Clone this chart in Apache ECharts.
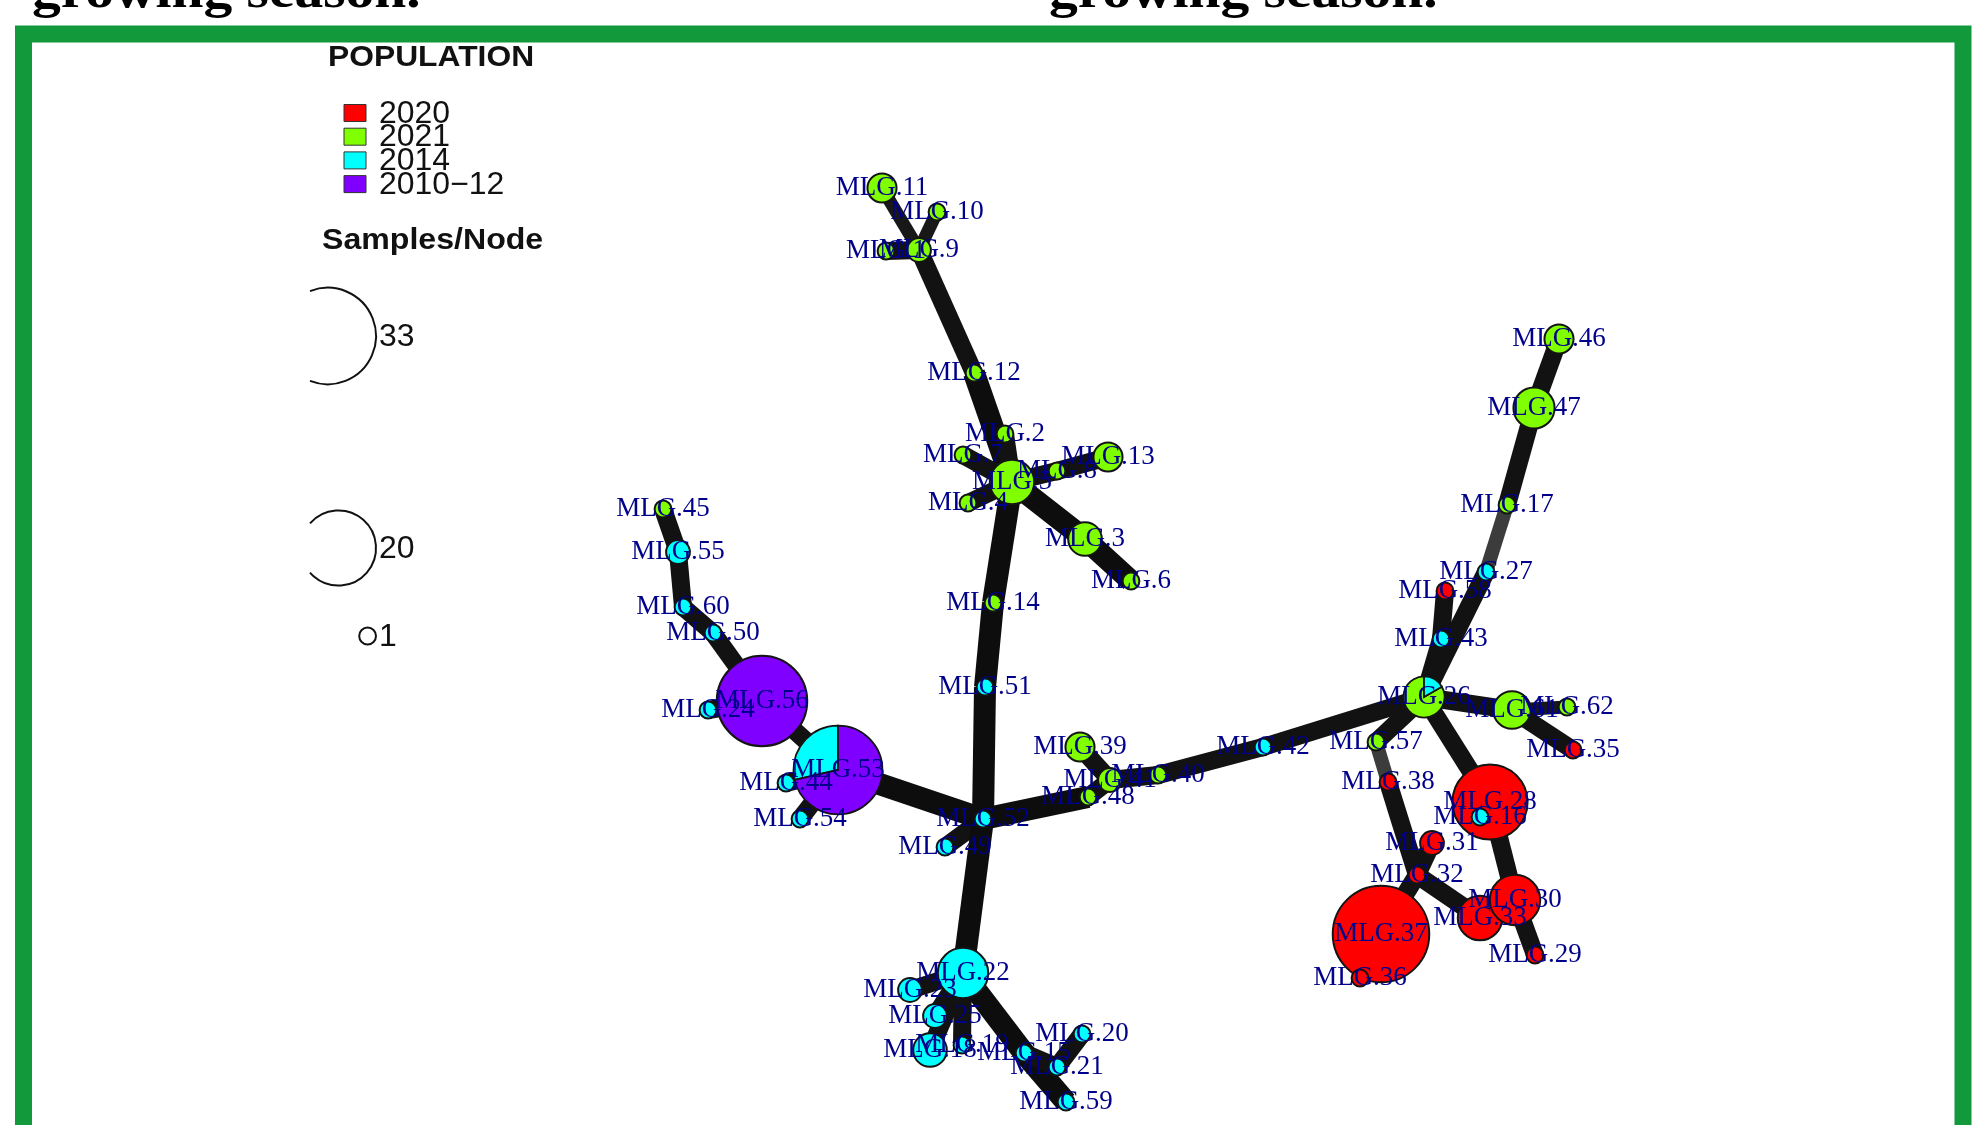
<!DOCTYPE html>
<html>
<head>
<meta charset="utf-8">
<script src="https://cdn.jsdelivr.net/npm/echarts@6/dist/echarts.min.js"></script>
<style>
html, body { margin: 0; padding: 0; background: #fff; }
#chart { width: 1981px; height: 1125px; }
</style>
</head>
<body>
<div id="chart"></div>
<script>
// populations in legend order, rainbow(4)
const populations = ['2020', '2021', '2014', '2010\u221212'];
const popColors = ['#FF0000', '#80FF00', '#00FFFF', '#8000FF'];
const sizeLegend = [33, 20, 1];

// MLG nodes (draw order) and their msn layout coordinates
const mlg = ['MLG.11','MLG.10','MLG.1','MLG.9','MLG.12','MLG.2','MLG.7','MLG.4','MLG.5','MLG.8',
  'MLG.13','MLG.3','MLG.6','MLG.14','MLG.51','MLG.52','MLG.49','MLG.45','MLG.55','MLG.60',
  'MLG.50','MLG.56','MLG.24','MLG.53','MLG.44','MLG.54','MLG.48','MLG.41','MLG.39','MLG.40',
  'MLG.42','MLG.26','MLG.61','MLG.62','MLG.35','MLG.57','MLG.43','MLG.58','MLG.27','MLG.17',
  'MLG.47','MLG.46','MLG.38','MLG.28','MLG.16','MLG.31','MLG.32','MLG.37','MLG.36','MLG.33',
  'MLG.30','MLG.29','MLG.22','MLG.23','MLG.25','MLG.18','MLG.19','MLG.15','MLG.20','MLG.21','MLG.59'];
const layoutX = [88.2, 93.7, 88.6, 91.9, 97.4, 100.5, 96.3, 96.8, 101.2, 105.7,
  110.8, 108.5, 113.1, 99.3, 98.5, 98.3, 94.5, 66.3, 67.8, 68.3,
  71.3, 76.2, 70.8, 83.8, 78.6, 80.0, 108.8, 111.0, 108.0, 115.8,
  126.3, 142.4, 151.2, 156.7, 157.3, 137.6, 144.1, 144.5, 148.6, 150.7,
  153.4, 155.9, 138.8, 149.0, 148.0, 143.2, 141.7, 138.1, 136.0, 148.0,
  151.5, 153.5, 96.3, 91.0, 93.5, 93.0, 96.2, 102.4, 108.2, 105.7, 106.6];
const layoutY = [18.8, 21.2, 25.1, 25.0, 37.3, 43.4, 45.5, 50.3, 48.2, 47.1,
  45.7, 53.9, 58.1, 60.3, 68.7, 81.9, 84.7, 50.9, 55.2, 60.7,
  63.3, 70.1, 71.0, 77.0, 78.3, 81.9, 79.7, 78.0, 74.7, 77.5,
  74.7, 69.7, 71.0, 70.7, 75.0, 74.2, 63.9, 59.1, 57.2, 50.5,
  40.8, 33.9, 78.2, 80.2, 81.7, 84.3, 87.5, 93.4, 97.8, 91.8,
  90.0, 95.5, 97.3, 99.0, 101.6, 105.0, 104.5, 105.3, 103.4, 106.7, 110.2];
// samples per node, split by population [2020, 2021, 2014, 2010-12]
const samples = [
  [0,3,0,0],[0,1,0,0],[0,1,0,0],[0,2,0,0],[0,1,0,0],[0,1,0,0],[0,1,0,0],[0,1,0,0],[0,7,0,0],[0,1,0,0],
  [0,3,0,0],[0,4,0,0],[0,1,0,0],[0,1,0,0],[0,0,1,0],[0,0,1,0],[0,0,1,0],[0,1,0,0],[0,0,2,0],[0,0,1,0],
  [0,0,1,0],[0,0,0,29],[0,0,1,0],[0,0,8,20],[0,0,1,0],[0,0,1,0],[0,1,0,0],[0,2,0,0],[0,3,0,0],[0,1,0,0],
  [0,0,1,0],[0,5,1,0],[0,5,0,0],[0,1,0,0],[1,0,0,0],[0,1,0,0],[0,0,1,0],[1,0,0,0],[0,0,1,0],[0,1,0,0],
  [0,6,0,0],[0,3,0,0],[1,0,0,0],[20,0,0,0],[0,0,1,0],[2,0,0,0],[1,0,0,0],[33,0,0,0],[1,0,0,0],[7,0,0,0],
  [9,0,0,0],[1,0,0,0],[0,0,9,0],[0,0,2,0],[0,0,2,0],[0,0,4,0],[0,0,1,0],[0,0,1,0],[0,0,1,0],[0,0,1,0],[0,0,1,0]];

// minimum spanning network links: [from, to, distance class]
const links = [
  ['MLG.11','MLG.9',3],['MLG.10','MLG.9',3],['MLG.1','MLG.9',2],['MLG.9','MLG.12',2],['MLG.12','MLG.5',1],
  ['MLG.5','MLG.2',2],['MLG.5','MLG.7',2],['MLG.5','MLG.4',2],['MLG.5','MLG.8',2],['MLG.8','MLG.13',2],
  ['MLG.5','MLG.3',1],['MLG.3','MLG.6',1],['MLG.5','MLG.14',1],['MLG.14','MLG.51',1],['MLG.51','MLG.52',1],
  ['MLG.52','MLG.49',2],['MLG.52','MLG.53',1],['MLG.53','MLG.44',2],['MLG.53','MLG.54',2],['MLG.53','MLG.56',2],
  ['MLG.56','MLG.24',2],['MLG.56','MLG.50',2],['MLG.50','MLG.60',2],['MLG.60','MLG.55',2],['MLG.55','MLG.45',2],
  ['MLG.52','MLG.22',1],['MLG.22','MLG.23',2],['MLG.22','MLG.25',2],['MLG.22','MLG.19',2],['MLG.22','MLG.18',2],
  ['MLG.22','MLG.15',1],['MLG.15','MLG.59',1],['MLG.15','MLG.21',2],['MLG.21','MLG.20',2],
  ['MLG.52','MLG.48',1],['MLG.48','MLG.41',2],['MLG.41','MLG.39',2],['MLG.41','MLG.40',2],['MLG.40','MLG.42',2],
  ['MLG.42','MLG.26',2],['MLG.26','MLG.43',2],['MLG.43','MLG.58',2],['MLG.26','MLG.27',2],['MLG.27','MLG.17',4],
  ['MLG.17','MLG.47',2],['MLG.47','MLG.46',2],['MLG.26','MLG.61',2],['MLG.61','MLG.62',3],['MLG.61','MLG.35',2],
  ['MLG.26','MLG.57',2],['MLG.57','MLG.38',4],['MLG.38','MLG.32',2],['MLG.32','MLG.37',2],['MLG.37','MLG.36',2],
  ['MLG.32','MLG.31',2],['MLG.32','MLG.33',2],['MLG.26','MLG.28',2],['MLG.28','MLG.16',2],['MLG.28','MLG.30',2],
  ['MLG.30','MLG.29',2]];

const edgeWidth = [0, 22, 18, 13, 14];
const edgeColor = ['', '#0d0d0d', '#121212', '#181818', '#3c3c3c'];
const labelColor = '#00008B';
const frameGreen = '#11993b';

function radius(n) { return 8.4 * Math.sqrt(n); }

const chart = echarts.init(document.getElementById('chart'));

const edgeData = links.map(function (l) {
  const a = mlg.indexOf(l[0]), b = mlg.indexOf(l[1]);
  return [layoutX[a], layoutY[a], layoutX[b], layoutY[b], l[2]];
});
const nodeData = mlg.map(function (m, i) { return [layoutX[i], layoutY[i], i]; });

function nodeShape(c, counts) {
  const total = counts.reduce(function (s, v) { return s + v; }, 0);
  const r = radius(total);
  const parts = [];
  counts.forEach(function (v, i) { if (v > 0) parts.push([v, i]); });
  if (parts.length === 1) {
    return { type: 'circle', shape: { cx: c[0], cy: c[1], r: r },
      style: { fill: popColors[parts[0][1]], stroke: '#141414', lineWidth: 2 } };
  }
  // pie slices start at 12 o'clock and run counter-clockwise
  let a = -Math.PI / 2;
  const children = parts.map(function (p) {
    const sweep = p[0] / total * Math.PI * 2;
    const s = { type: 'sector',
      shape: { cx: c[0], cy: c[1], r0: 0, r: r, startAngle: a - sweep, endAngle: a, clockwise: true },
      style: { fill: popColors[p[1]], stroke: '#141414', lineWidth: 1.8 } };
    a -= sweep;
    return s;
  });
  return { type: 'group', children: children };
}

// legend graphics
const legendEls = [];
function legendText(txt, x, y, font, sx) {
  legendEls.push({ type: 'text', x: x, y: y, scaleX: sx, z: 10,
    style: { text: txt, font: font, fill: '#111', align: 'left', verticalAlign: 'middle',
      textAlign: 'left', textVerticalAlign: 'middle' } });
}
legendText('POPULATION', 328, 58, 'bold 30px "Liberation Sans"', 1.06);
populations.forEach(function (p, i) {
  const cy = 113 + i * 23.7;
  legendEls.push({ type: 'rect', z: 10, shape: { x: 344, y: cy - 8.5, width: 22, height: 17 },
    style: { fill: popColors[i], stroke: '#333', lineWidth: 1 } });
  legendText(p, 379, cy + 1, '31px "Liberation Sans"', 1.03);
});
legendText('Samples/Node', 322, 241, 'bold 30px "Liberation Sans"', 1.07);
const sizeRowsY = [336, 548, 636];
sizeLegend.forEach(function (n, i) {
  const r = radius(n);
  const cx = 376 - r, cy = sizeRowsY[i];
  const clipX = 310;
  let th = Math.PI;
  if (cx - r < clipX) th = Math.acos((clipX - cx) / r);
  legendEls.push({ type: 'arc', z: 10,
    shape: { cx: cx, cy: cy, r: r, startAngle: -th, endAngle: th, clockwise: true },
    style: { stroke: '#111', lineWidth: 2, fill: null } });
  legendText(String(n), 379, cy + 1, '31px "Liberation Sans"', 1.03);
});

const option = {
  backgroundColor: '#ffffff',
  animation: false,
  grid: { left: 0, right: 0, top: 0, bottom: 0, containLabel: false },
  xAxis: { type: 'value', min: 0, max: 198.1, show: false },
  yAxis: { type: 'value', min: 0, max: 112.5, inverse: true, show: false },
  graphic: [
    { type: 'rect', z: 5, shape: { x: 23.5, y: 34, width: 1939.5, height: 1200 },
      style: { fill: null, stroke: frameGreen, lineWidth: 17 } },
    { type: 'text', x: 32, y: -6, scaleX: 1.15, z: 10,
      style: { text: 'growing season.', font: 'bold 50px "Liberation Serif"', fill: '#000',
        align: 'left', verticalAlign: 'middle', textAlign: 'left', textVerticalAlign: 'middle' } },
    { type: 'text', x: 1049, y: -6, scaleX: 1.15, z: 10,
      style: { text: 'growing season.', font: 'bold 50px "Liberation Serif"', fill: '#000',
        align: 'left', verticalAlign: 'middle', textAlign: 'left', textVerticalAlign: 'middle' } }
  ].concat(legendEls),
  series: [
    {
      type: 'custom', name: 'links', coordinateSystem: 'cartesian2d', silent: true, z: 1,
      encode: { x: [0, 2], y: [1, 3] },
      data: edgeData,
      renderItem: function (params, api) {
        const p1 = api.coord([api.value(0), api.value(1)]);
        const p2 = api.coord([api.value(2), api.value(3)]);
        const lvl = api.value(4);
        return { type: 'line', shape: { x1: p1[0], y1: p1[1], x2: p2[0], y2: p2[1] },
          style: { stroke: edgeColor[lvl], lineWidth: edgeWidth[lvl], lineCap: 'butt' } };
      }
    },
    {
      type: 'custom', name: 'nodes', coordinateSystem: 'cartesian2d', silent: true, z: 2,
      encode: { x: 0, y: 1 },
      data: nodeData,
      renderItem: function (params, api) {
        const c = api.coord([api.value(0), api.value(1)]);
        return nodeShape(c, samples[api.value(2)]);
      }
    },
    {
      type: 'custom', name: 'labels', coordinateSystem: 'cartesian2d', silent: true, z: 3,
      encode: { x: 0, y: 1 },
      data: nodeData,
      renderItem: function (params, api) {
        const c = api.coord([api.value(0), api.value(1)]);
        return { type: 'text', x: c[0], y: c[1],
          style: { text: mlg[api.value(2)], font: '27px "Liberation Serif"', fill: labelColor,
            align: 'center', verticalAlign: 'middle', textAlign: 'center', textVerticalAlign: 'middle' } };
      }
    }
  ]
};
chart.setOption(option);
</script>
</body>
</html>
